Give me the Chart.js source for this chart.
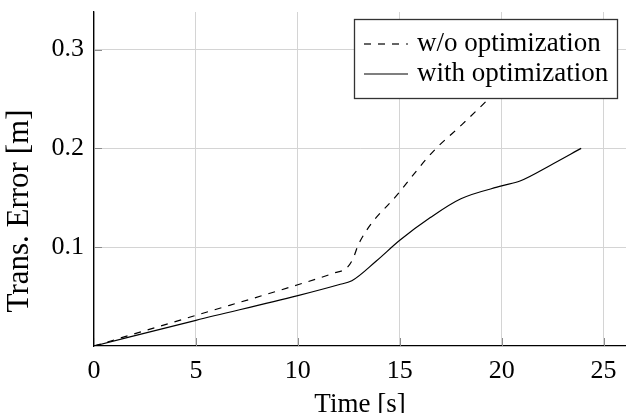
<!DOCTYPE html>
<html><head><meta charset="utf-8">
<script src="https://cdn.jsdelivr.net/npm/chart.js@4/dist/chart.umd.min.js"></script>
<style>html,body{margin:0;padding:0;background:#fff;} canvas{display:block;}</style>
</head><body>
<canvas id="c" width="626" height="413"></canvas>
<script>
// ---- data ----
const seriesLabels = ['w/o optimization', 'with optimization'];
const timeWithout = [0, 5, 10, 11.8, 12.4, 12.7, 13.0, 15, 16.6, 18.1, 19.45, 20.2];
const errWithout  = [0, 0.031, 0.062, 0.074, 0.079, 0.088, 0.104, 0.156, 0.196, 0.225, 0.252, 0.268];
const timeWith = [0, 5, 10, 12.0, 12.65, 13.85, 15, 16.5, 18.0, 20.0, 20.9, 22.4, 23.9];
const errWith  = [0, 0.026, 0.051, 0.062, 0.066, 0.086, 0.107, 0.130, 0.149, 0.162, 0.167, 0.183, 0.200];
const xTickValues = [0, 5, 10, 15, 20, 25];
const yTickValues = [0.1, 0.2, 0.3];
const xAxisTitle = 'Time [s]';
const yAxisTitle = 'Trans. Error [m]';

const FONT = "'Liberation Serif', 'Times New Roman', serif";
const toPts = (xs, ys) => xs.map((x, i) => ({x: x, y: ys[i]}));

const innerTicks = {
  id: 'innerTicks',
  beforeDatasetsDraw(chart) {
    const {ctx, chartArea: a, scales: {x, y}} = chart;
    ctx.save();
    ctx.strokeStyle = '#8c8c8c';
    ctx.lineWidth = 1;
    ctx.beginPath();
    x.ticks.forEach(t => {
      const px = Math.round(x.getPixelForValue(t.value)) + 0.5;
      ctx.moveTo(px, a.bottom); ctx.lineTo(px, a.bottom - 8);
    });
    y.ticks.forEach(t => {
      const py = Math.round(y.getPixelForValue(t.value)) + 0.5;
      ctx.moveTo(a.left, py); ctx.lineTo(a.left + 8, py);
    });
    ctx.stroke();
    ctx.restore();
  }
};

const boxLegend = {
  id: 'boxLegend',
  afterDatasetsDraw(chart) {
    const {ctx, chartArea: a} = chart;
    const w = 264, h = 80;
    const x0 = a.right - 8 - w, y0 = a.top + 7;
    ctx.save();
    ctx.fillStyle = '#fff';
    ctx.fillRect(x0, y0, w, h);
    ctx.strokeStyle = '#333';
    ctx.lineWidth = 1.3;
    ctx.strokeRect(x0 + 0.5, y0 + 0.5, w - 1, h - 1);
    chart.data.datasets.forEach((ds, i) => {
      const cy = y0 + 25 + i * 30;
      ctx.beginPath();
      ctx.setLineDash(ds.borderDash || []);
      ctx.strokeStyle = ds.borderColor;
      ctx.lineWidth = ds.borderWidth;
      ctx.moveTo(x0 + 10, cy); ctx.lineTo(x0 + 54, cy);
      ctx.stroke();
      ctx.setLineDash([]);
      ctx.fillStyle = '#000';
      ctx.font = '27px ' + FONT;
      ctx.textBaseline = 'middle';
      ctx.textAlign = 'left';
      ctx.fillText(ds.label, x0 + 63, cy);
    });
    ctx.restore();
  }
};

// y-axis title (larger than the tick labels, as in the reference)
const yTitle = {
  id: 'yTitle',
  afterDraw(chart) {
    const {ctx, chartArea: a, scales: {y}} = chart;
    ctx.save();
    ctx.translate(20, (a.top + a.bottom) / 2 + 32);
    ctx.rotate(-Math.PI / 2);
    ctx.fillStyle = '#000';
    ctx.font = '31px ' + FONT;
    ctx.textAlign = 'center';
    ctx.textBaseline = 'middle';
    ctx.fillText(y.options.title.text, 0, 0);
    ctx.restore();
  }
};

new Chart(document.getElementById('c'), {
  type: 'line',
  data: {
    datasets: [
      { label: seriesLabels[0], data: toPts(timeWithout, errWithout), borderColor: '#000', borderWidth: 1.2,
        borderDash: [7, 7], pointRadius: 0, cubicInterpolationMode: 'monotone', fill: false },
      { label: seriesLabels[1], data: toPts(timeWith, errWith), borderColor: '#000', borderWidth: 1.2,
        pointRadius: 0, cubicInterpolationMode: 'monotone', fill: false }
    ]
  },
  options: {
    responsive: false,
    devicePixelRatio: 1,
    animation: false,
    layout: { padding: { top: 12, right: 0, left: 0, bottom: 0 } },
    plugins: { legend: { display: false }, tooltip: { enabled: false } },
    scales: {
      x: {
        type: 'linear', min: 0, max: 26.1,
        afterBuildTicks: s => { s.ticks = xTickValues.map(v => ({value: v})); },
        afterFit: s => { s.height = 67; s.paddingLeft = 0; s.paddingRight = 0; },
        ticks: { color: '#000', font: { family: FONT, size: 26 }, padding: 10, maxRotation: 0,
                 callback: v => String(v) },
        grid: { color: '#d4d4d4', lineWidth: 1, drawTicks: false },
        border: { display: true, color: '#000', width: 1.3 },
        title: { display: true, text: xAxisTitle, color: '#000', font: { family: FONT, size: 27 },
                 padding: { top: 0, bottom: -8 } }
      },
      y: {
        type: 'linear', min: 0, max: 0.338,
        afterBuildTicks: s => { s.ticks = yTickValues.map(v => ({value: v})); },
        afterFit: s => { s.width = 94; s.paddingTop = 0; s.paddingBottom = 0; },
        ticks: { color: '#000', font: { family: FONT, size: 26 }, padding: 10,
                 callback: v => v.toFixed(1) },
        grid: { color: '#d4d4d4', lineWidth: 1, drawTicks: false },
        border: { display: true, color: '#000', width: 1.3 },
        title: { display: false, text: yAxisTitle }
      }
    }
  },
  plugins: [innerTicks, boxLegend, yTitle]
});
</script>
</body></html>
